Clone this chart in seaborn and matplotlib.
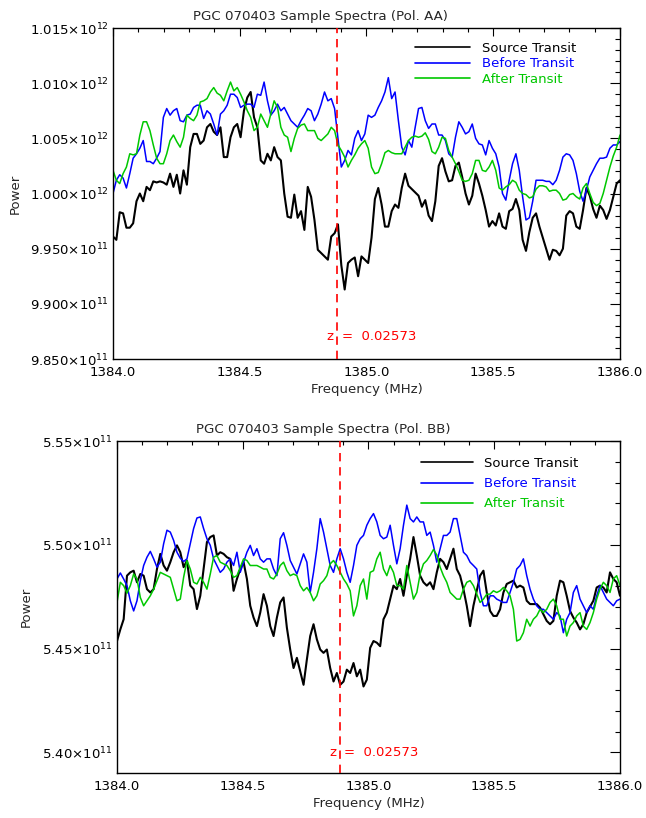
import numpy as np
import pandas as pd
import matplotlib
matplotlib.use("Agg")
import matplotlib.pyplot as plt
from matplotlib.ticker import FixedLocator, MultipleLocator, FuncFormatter
import seaborn as sns

# ---------------- data ----------------
FREQ_START, FREQ_STOP, N_CHAN = 1384.0, 1386.0, 152   # spectrometer channel grid (MHz)
Z_FREQ = 1384.885        # frequency marked for z = 0.02573
Z_LABEL = "0.02573"
POWER_UNIT = 1e9         # values below are in units of 1e9

SERIES = ["Source Transit", "Before Transit", "After Transit"]
COLORS = ["#000000", "#0000ff", "#00c800"]

AA_SOURCE = [
    996.1, 995.8, 998.3, 998.2, 996.9, 996.9, 997.3, 999.3, 1000.0, 999.3,
    1000.6, 1000.3, 1001.1, 1001.0, 1001.1, 1001.0, 1000.8, 1001.8, 1000.6, 1001.7,
    1000.0, 1002.1, 1000.8, 1004.2, 1005.4, 1005.4, 1004.5, 1004.8, 1006.0, 1006.3,
    1005.6, 1005.3, 1006.0, 1003.3, 1003.3, 1005.1, 1006.0, 1006.3, 1005.1, 1007.5,
    1008.7, 1009.2, 1006.9, 1006.0, 1003.0, 1002.7, 1003.6, 1003.0, 1004.2, 1003.3,
    1003.0, 1000.0, 997.9, 997.8, 999.9, 997.8, 998.4, 996.7, 1000.6, 999.7,
    997.6, 994.9, 994.6, 994.3, 994.0, 996.1, 996.4, 997.2, 993.5, 991.3,
    993.7, 994.0, 994.2, 992.5, 994.3, 994.0, 993.7, 996.0, 999.5, 1000.5,
    999.0, 997.0, 997.0, 998.4, 999.0, 998.7, 1000.5, 1001.8, 1000.7, 1000.4,
    1000.1, 999.8, 998.8, 999.4, 998.0, 997.5, 999.3, 1002.5, 1003.2, 1002.0,
    1001.1, 1001.2, 1002.5, 1002.8, 1001.5, 1000.0, 999.0, 999.8, 1001.8, 1000.9,
    999.8, 998.5, 997.0, 997.5, 997.1, 998.2, 997.0, 996.8, 998.4, 998.6,
    999.5, 998.5, 995.8, 994.8, 996.5, 997.8, 998.2, 997.0, 996.0, 995.0,
    994.0, 994.9, 994.8, 994.4, 995.0, 998.0, 998.4, 998.2, 997.0, 996.8,
    998.5, 1000.5, 999.8, 998.6, 997.8, 998.9, 998.5, 997.7, 998.5, 999.7,
    1000.9, 1001.2,
]
AA_BEFORE = [
    1000.0, 1001.2, 1001.7, 1001.4, 1000.5, 1001.8, 1003.2, 1003.6, 1004.1, 1004.8,
    1002.9, 1002.9, 1002.7, 1003.2, 1003.8, 1006.9, 1007.7, 1007.1, 1007.5, 1007.7,
    1006.6, 1006.5, 1007.1, 1007.2, 1007.8, 1008.0, 1008.0, 1006.8, 1007.5, 1007.2,
    1006.3, 1005.3, 1007.2, 1007.5, 1008.0, 1009.0, 1009.0, 1008.7, 1007.8, 1008.0,
    1008.1, 1008.1, 1007.8, 1009.0, 1008.9, 1010.1, 1008.4, 1007.1, 1007.5, 1008.1,
    1007.5, 1007.8, 1007.2, 1006.6, 1006.3, 1006.0, 1006.6, 1007.1, 1007.7, 1007.5,
    1006.6, 1007.2, 1008.1, 1009.2, 1008.4, 1008.6, 1007.7, 1005.0, 1002.4, 1003.0,
    1003.9, 1003.5, 1005.0, 1005.7, 1004.8, 1005.4, 1007.1, 1006.9, 1007.1, 1007.8,
    1008.4, 1009.2, 1010.5, 1008.6, 1009.2, 1006.6, 1004.2, 1003.5, 1004.8, 1004.2,
    1006.0, 1007.7, 1007.8, 1006.6, 1005.9, 1006.3, 1006.3, 1005.3, 1005.3, 1004.8,
    1003.6, 1003.3, 1005.1, 1006.5, 1006.0, 1005.4, 1005.6, 1006.3, 1005.0, 1004.5,
    1004.4, 1003.5, 1004.8, 1004.1, 1003.6, 1002.4, 1000.0, 999.4, 1001.2, 1002.7,
    1003.6, 1002.1, 999.7, 997.6, 997.8, 999.3, 1001.2, 1001.2, 1001.2, 1001.1,
    1001.1, 1000.8, 1001.2, 1002.1, 1003.3, 1003.6, 1003.5, 1003.0, 1001.8, 1000.2,
    999.3, 1000.3, 1001.5, 1002.1, 1002.7, 1003.2, 1003.2, 1003.3, 1004.1, 1004.4,
    1004.4, 1004.7,
]
AA_AFTER = [
    1002.1, 1001.2, 1000.9, 1001.8, 1002.4, 1003.6, 1003.5, 1003.6, 1005.3, 1006.5,
    1006.5, 1005.7, 1004.4, 1003.2, 1002.7, 1002.7, 1003.6, 1004.8, 1005.3, 1004.7,
    1004.2, 1005.1, 1007.1, 1006.8, 1006.6, 1007.1, 1008.3, 1008.4, 1008.6, 1009.2,
    1009.6, 1009.1, 1008.9, 1008.4, 1009.3, 1010.1, 1009.3, 1009.6, 1009.0, 1008.3,
    1007.5, 1006.9, 1005.7, 1006.0, 1007.2, 1006.6, 1006.0, 1007.2, 1008.4, 1007.8,
    1006.0, 1005.3, 1005.1, 1003.8, 1005.0, 1005.9, 1006.2, 1006.3, 1005.7, 1005.7,
    1005.7, 1005.0, 1004.8, 1005.1, 1005.4, 1006.0, 1005.7, 1004.4, 1003.9, 1003.3,
    1002.4, 1003.0, 1003.5, 1004.1, 1004.5, 1004.8, 1004.1, 1002.4, 1001.8, 1001.9,
    1002.7, 1003.7, 1003.9, 1003.7, 1003.6, 1003.6, 1003.6, 1004.2, 1004.8, 1005.1,
    1005.2, 1005.1, 1005.2, 1005.5, 1004.9, 1003.8, 1003.6, 1004.2, 1005.1, 1005.0,
    1003.9, 1003.3, 1002.7, 1002.0, 1001.2, 1001.1, 1001.2, 1001.8, 1003.0, 1003.0,
    1002.1, 1002.0, 1002.4, 1003.0, 1002.1, 1000.5, 1000.3, 1000.6, 1000.8, 1001.2,
    1001.0, 1000.3, 1000.0, 999.9, 999.6, 999.7, 1000.4, 1000.7, 1000.7, 1000.6,
    1000.2, 1000.3, 1000.3, 1000.0, 999.4, 999.5, 999.9, 1000.0, 999.7, 999.5,
    1000.5, 1000.9, 1000.0, 999.2, 998.9, 999.1, 1000.0, 1001.2, 1002.4, 1003.4,
    1004.2, 1005.3,
]
BB_SOURCE = [
    545.36, 545.92, 546.41, 548.51, 548.67, 548.75, 548.19, 548.59, 548.51, 547.86,
    547.70, 547.86, 548.83, 549.56, 549.00, 548.75, 549.16, 549.64, 549.97, 549.64,
    548.92, 549.24, 548.03, 547.86, 546.90, 547.54, 548.83, 550.13, 550.37, 550.45,
    549.48, 549.64, 549.56, 549.40, 549.32, 547.78, 548.35, 548.83, 549.16, 548.35,
    547.06, 546.49, 546.08, 546.73, 547.62, 547.06, 546.08, 545.60, 546.49, 547.22,
    547.46, 546.00, 544.95, 544.06, 544.55, 543.90, 543.25, 544.47, 545.60, 546.17,
    545.44, 544.95, 544.79, 544.95, 544.06, 543.41, 543.82, 543.25, 543.41, 543.98,
    543.82, 544.30, 543.66, 543.98, 543.17, 543.50, 545.03, 545.36, 545.28, 545.11,
    546.41, 546.73, 547.38, 548.03, 547.86, 548.35, 547.54, 548.51, 549.32, 550.37,
    549.48, 548.51, 548.19, 548.03, 548.19, 547.86, 548.67, 549.32, 549.16, 548.83,
    549.32, 549.81, 548.83, 548.51, 547.86, 547.06, 546.08, 547.06, 547.78, 548.51,
    548.75, 547.70, 546.81, 546.57, 546.57, 546.89, 547.70, 548.11, 548.19, 548.27,
    547.94, 548.03, 547.94, 547.30, 547.14, 547.14, 547.14, 546.97, 546.65, 546.33,
    546.17, 546.33, 547.54, 548.27, 548.19, 547.54, 546.81, 546.49, 546.25, 545.92,
    546.17, 546.73, 547.02, 547.30, 547.94, 548.03, 547.94, 547.70, 548.67, 548.35,
    548.19, 547.54,
]
BB_BEFORE = [
    548.35, 548.64, 548.35, 548.03, 547.30, 546.81, 547.30, 548.27, 549.00, 549.40,
    549.68, 549.32, 548.92, 549.16, 550.05, 550.70, 550.61, 550.21, 549.64, 549.35,
    549.19, 549.32, 550.05, 550.78, 551.29, 551.34, 550.78, 550.29, 549.97, 549.32,
    549.00, 548.67, 548.83, 549.16, 549.32, 549.00, 549.64, 548.67, 549.16, 549.64,
    549.97, 549.48, 549.81, 549.32, 549.16, 549.32, 549.32, 548.83, 548.51, 550.29,
    550.58, 549.97, 549.24, 548.92, 548.59, 549.08, 549.56, 549.16, 547.70, 548.67,
    549.81, 551.26, 550.61, 549.81, 549.00, 548.67, 549.32, 549.81, 549.32, 548.67,
    548.19, 549.00, 549.97, 550.29, 550.45, 550.94, 551.26, 551.50, 551.10, 550.45,
    550.29, 550.37, 550.94, 549.97, 549.08, 549.81, 550.94, 551.91, 551.26, 551.10,
    551.34, 551.10, 551.10, 550.45, 550.61, 549.97, 549.16, 549.81, 550.45, 550.45,
    550.61, 551.26, 551.26, 550.45, 549.64, 549.48, 549.16, 549.00, 548.83, 547.70,
    547.06, 547.06, 547.54, 547.54, 547.38, 547.30, 547.22, 547.22, 547.70, 548.19,
    548.83, 549.00, 549.32, 548.51, 547.86, 547.38, 547.06, 546.89, 546.89, 546.73,
    546.57, 546.41, 546.73, 546.57, 545.76, 546.41, 546.73, 547.70, 548.03, 547.38,
    547.06, 546.73, 547.06, 546.89, 547.54, 548.03, 547.70, 547.38, 547.22, 547.06,
    547.30, 547.38,
]
BB_AFTER = [
    547.22, 548.19, 548.03, 547.67, 548.03, 548.59, 548.35, 547.46, 547.06, 547.30,
    547.54, 547.86, 548.27, 548.67, 548.59, 548.51, 548.43, 547.86, 547.30, 547.38,
    548.43, 549.24, 548.83, 548.19, 548.11, 548.43, 548.19, 547.86, 548.59, 549.40,
    549.48, 549.16, 549.08, 549.00, 548.75, 548.43, 548.51, 548.92, 549.32, 549.24,
    549.00, 549.00, 549.00, 548.92, 548.83, 548.83, 548.43, 548.35, 548.59, 549.00,
    549.16, 548.75, 548.51, 548.59, 548.51, 548.03, 547.78, 547.94, 547.70, 547.30,
    547.54, 548.11, 548.27, 548.51, 549.08, 549.24, 549.00, 548.67, 548.35, 548.11,
    547.78, 546.57, 547.06, 548.03, 548.35, 547.38, 548.67, 548.75, 549.32, 549.64,
    548.83, 548.51, 549.00, 548.67, 548.03, 548.03, 547.86, 549.00, 548.19, 547.38,
    547.70, 548.59, 549.08, 549.24, 549.48, 549.77, 549.51, 548.92, 548.51, 548.19,
    547.70, 547.54, 547.38, 547.38, 547.86, 548.19, 548.27, 548.03, 547.62, 547.22,
    547.38, 547.62, 547.62, 547.78, 547.70, 547.78, 547.94, 547.78, 547.54, 546.89,
    545.36, 545.44, 545.76, 546.41, 546.08, 546.41, 546.57, 546.89, 546.73, 546.89,
    547.22, 547.38, 547.06, 546.41, 546.41, 545.60, 546.08, 546.25, 546.57, 546.73,
    546.08, 545.92, 546.25, 546.73, 547.38, 547.86, 548.19, 548.03, 547.70, 548.35,
    548.51, 548.03,
]

AA_TICKS = [0.985e12, 0.990e12, 0.995e12, 1.000e12, 1.005e12, 1.010e12, 1.015e12]
BB_TICKS = [5.40e11, 5.45e11, 5.50e11, 5.55e11]
X_TICKS = [1384.0, 1384.5, 1385.0, 1385.5, 1386.0]

# ---------------- style ----------------
sns.set_style("white")
plt.rcParams["font.family"] = ["DejaVu Sans"]
plt.rcParams["mathtext.fontset"] = "dejavusans"

FS = 9.5

def sci_fmt(decimals):
    def f(v, pos):
        e = int(np.floor(np.log10(v) + 1e-9))
        m = v / 10 ** e
        return rf"{m:.{decimals}f}$\times$10$^{{{e}}}$"
    return FuncFormatter(f)

freq = np.linspace(FREQ_START, FREQ_STOP, N_CHAN)

fig = plt.figure(figsize=(6.46, 8.18), dpi=100)
ax1 = fig.add_axes([0.17492, 0.56112, 0.78483, 0.40465])
ax2 = fig.add_axes([0.18111, 0.05501, 0.77864, 0.40587])

panels = [
    (ax1, [AA_SOURCE, AA_BEFORE, AA_AFTER], "PGC 070403 Sample Spectra (Pol. AA)",
     (0.985e12, 1.015e12), AA_TICKS, 0.001e12, 3, 0.9870e12,
     (0.5957, 0.9577), 4.16, 0.18, 0.180),
    (ax2, [BB_SOURCE, BB_BEFORE, BB_AFTER], "PGC 070403 Sample Spectra (Pol. BB)",
     (5.39e11, 5.55e11), BB_TICKS, 0.01e11, 2, 5.400e11,
     (0.604, 0.952), 3.92, 0.55, 0.167),
]

for (ax, series_vals, title, ylim, yticks, yminor, dec, ztext_y,
     leg_anchor, hl, ls, ylab_x) in panels:
    for name, vals, col in zip(SERIES, series_vals, COLORS):
        df = pd.DataFrame({"freq": freq, "power": np.array(vals) * POWER_UNIT})
        sns.lineplot(data=df, x="freq", y="power", ax=ax, color=col,
                     linewidth=1.5 if name == "Source Transit" else 1.1,
                     label=name, estimator=None, sort=False)
    ax.axvline(Z_FREQ, color="red", linestyle=(0, (5, 3.5)), linewidth=1.2, zorder=5)
    ax.annotate("z", xy=(Z_FREQ, ztext_y), xytext=(-2.5, 0), textcoords="offset points",
                ha="right", va="center", color="red", fontsize=FS)
    ax.annotate("=  " + Z_LABEL, xy=(Z_FREQ, ztext_y), xytext=(3, 0), textcoords="offset points",
                ha="left", va="center", color="red", fontsize=FS)

    ax.set_xlim(FREQ_START, FREQ_STOP)
    ax.set_ylim(*ylim)
    ax.xaxis.set_major_locator(FixedLocator(X_TICKS))
    ax.xaxis.set_minor_locator(MultipleLocator(0.1))
    ax.xaxis.set_major_formatter(FuncFormatter(lambda v, p: f"{v:.1f}"))
    ax.yaxis.set_major_locator(FixedLocator(yticks))
    ax.yaxis.set_minor_locator(MultipleLocator(yminor))
    ax.yaxis.set_major_formatter(sci_fmt(dec))

    ax.tick_params(axis="both", which="both", direction="in", top=True, right=True,
                   colors="black", width=0.8, labelsize=FS)
    ax.tick_params(axis="x", which="major", length=5.8, pad=5)
    ax.tick_params(axis="x", which="minor", length=2.9)
    ax.tick_params(axis="y", which="major", length=7.2, pad=3)
    ax.tick_params(axis="y", which="minor", length=3.6)
    for sp in ax.spines.values():
        sp.set_visible(True)
        sp.set_color("black")
        sp.set_linewidth(1.0)

    ax.set_xlabel("Frequency (MHz)", fontsize=FS, labelpad=3)
    ax.set_ylabel("Power", fontsize=FS)
    ax.yaxis.set_label_coords(-ylab_x, 0.5)
    ax.set_title(title, fontsize=9.6, x=0.41, pad=6)

    leg = ax.legend(loc="upper left", bbox_to_anchor=leg_anchor, frameon=False,
                    fontsize=FS, handlelength=hl, handletextpad=0.9,
                    labelspacing=ls, borderpad=0, borderaxespad=0, labelcolor="linecolor")
    for h in leg.get_lines():
        h.set_linewidth(1.2)

fig.savefig("out.png", dpi=100)
